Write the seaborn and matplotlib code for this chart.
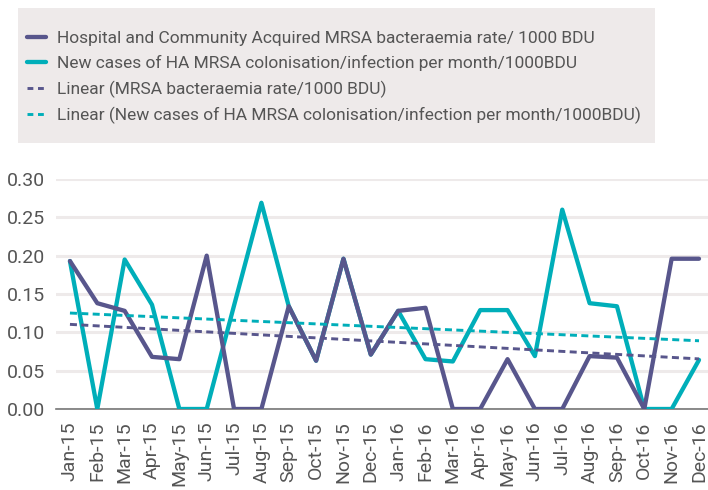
import numpy as np
import pandas as pd
import matplotlib
matplotlib.use("Agg")
import matplotlib.pyplot as plt
import seaborn as sns
from matplotlib.patches import Rectangle
from matplotlib.lines import Line2D

months = ["Jan-15", "Feb-15", "Mar-15", "Apr-15", "May-15", "Jun-15", "Jul-15", "Aug-15",
          "Sep-15", "Oct-15", "Nov-15", "Dec-15", "Jan-16", "Feb-16", "Mar-16", "Apr-16",
          "May-16", "Jun-16", "Jul-16", "Aug-16", "Sep-16", "Oct-16", "Nov-16", "Dec-16"]
bacteraemia = [0.193, 0.138, 0.128, 0.068, 0.065, 0.200, 0.0, 0.0,
               0.134, 0.063, 0.196, 0.071, 0.128, 0.132, 0.0, 0.0,
               0.065, 0.0, 0.0, 0.069, 0.067, 0.0, 0.196, 0.196]
new_cases = [0.193, 0.0, 0.195, 0.136, 0.0, 0.0, 0.135, 0.269,
             0.134, 0.063, 0.196, 0.071, 0.128, 0.065, 0.062, 0.129,
             0.129, 0.069, 0.260, 0.138, 0.134, 0.0, 0.0, 0.064]
labels = ["Hospital and Community Acquired MRSA bacteraemia rate/ 1000 BDU",
          "New cases of HA MRSA colonisation/infection per month/1000BDU",
          "Linear (MRSA bacteraemia rate/1000 BDU)",
          "Linear (New cases of HA MRSA colonisation/infection per month/1000BDU)"]
yticks = [0.00, 0.05, 0.10, 0.15, 0.20, 0.25, 0.30]

purple = "#58568c"
teal = "#00aeb9"
grey_txt = "#555555"

sns.set_theme(style="white")
plt.rcParams['font.family'] = ['Roboto', 'DejaVu Sans']

idx = np.arange(len(months))
df = pd.DataFrame({"i": idx, "b": bacteraemia, "n": new_cases})
cb = np.polyfit(idx, bacteraemia, 1)
cn = np.polyfit(idx, new_cases, 1)
df["tb"] = np.polyval(cb, idx)
df["tn"] = np.polyval(cn, idx)

fig = plt.figure(figsize=(7.08, 4.90), dpi=100)
ax = fig.add_axes([56/708, 1-409/490, (708-56)/708, (409-179)/490])

sns.lineplot(data=df, x="i", y="n", ax=ax, color=teal, lw=3.1, zorder=3)
sns.lineplot(data=df, x="i", y="b", ax=ax, color=purple, lw=3.1, zorder=4)
sns.lineplot(data=df, x="i", y="tb", ax=ax, color=purple, lw=2.1, zorder=5)
sns.lineplot(data=df, x="i", y="tn", ax=ax, color=teal, lw=2.1, zorder=5)
ax.lines[2].set_dashes([2.4, 1.5])
ax.lines[3].set_dashes([2.4, 1.5])

ax.set_xlim(-0.51, -0.51 + 652/27.35)
ax.set_ylim(0, 0.30)
ax.set_yticks(yticks)
ax.set_yticklabels([f"{v:.2f}" for v in yticks])
ax.set_xticks(idx)
ax.set_xticklabels(months, rotation=90)
ax.set_xlabel("")
ax.set_ylabel("")
ax.tick_params(axis="both", labelsize=14, colors=grey_txt, length=0)
ax.tick_params(axis="y", pad=8)
ax.tick_params(axis="x", pad=9)
ax.grid(axis="y", color="#eeeaea", lw=2.2, zorder=0)
ax.grid(axis="x", visible=False)
for s in ["top", "right", "left"]:
    ax.spines[s].set_visible(False)
ax.spines["bottom"].set_color("#777777")
ax.spines["bottom"].set_linewidth(1.2)
ax.set_axisbelow(True)

# legend box
fig.patches.append(Rectangle((18/708, 1-143/490), (655-18)/708, (143-8)/490,
                             transform=fig.transFigure, facecolor="#eeeaea",
                             edgecolor="none", zorder=0))
handles = [Line2D([], [], color=purple, lw=3.1),
           Line2D([], [], color=teal, lw=3.1),
           Line2D([], [], color=purple, lw=2.1, dashes=[2.0, 1.6]),
           Line2D([], [], color=teal, lw=2.1, dashes=[2.0, 1.6])]
leg = fig.legend(handles, labels, loc="upper left", bbox_to_anchor=(27/708, 1-31/490),
                 frameon=False, fontsize=12.55, handlelength=1.1, handletextpad=0.63,
                 labelspacing=0.52, borderaxespad=0, borderpad=0)
for t in leg.get_texts():
    t.set_color(grey_txt)

fig.savefig("out.png", dpi=100)
